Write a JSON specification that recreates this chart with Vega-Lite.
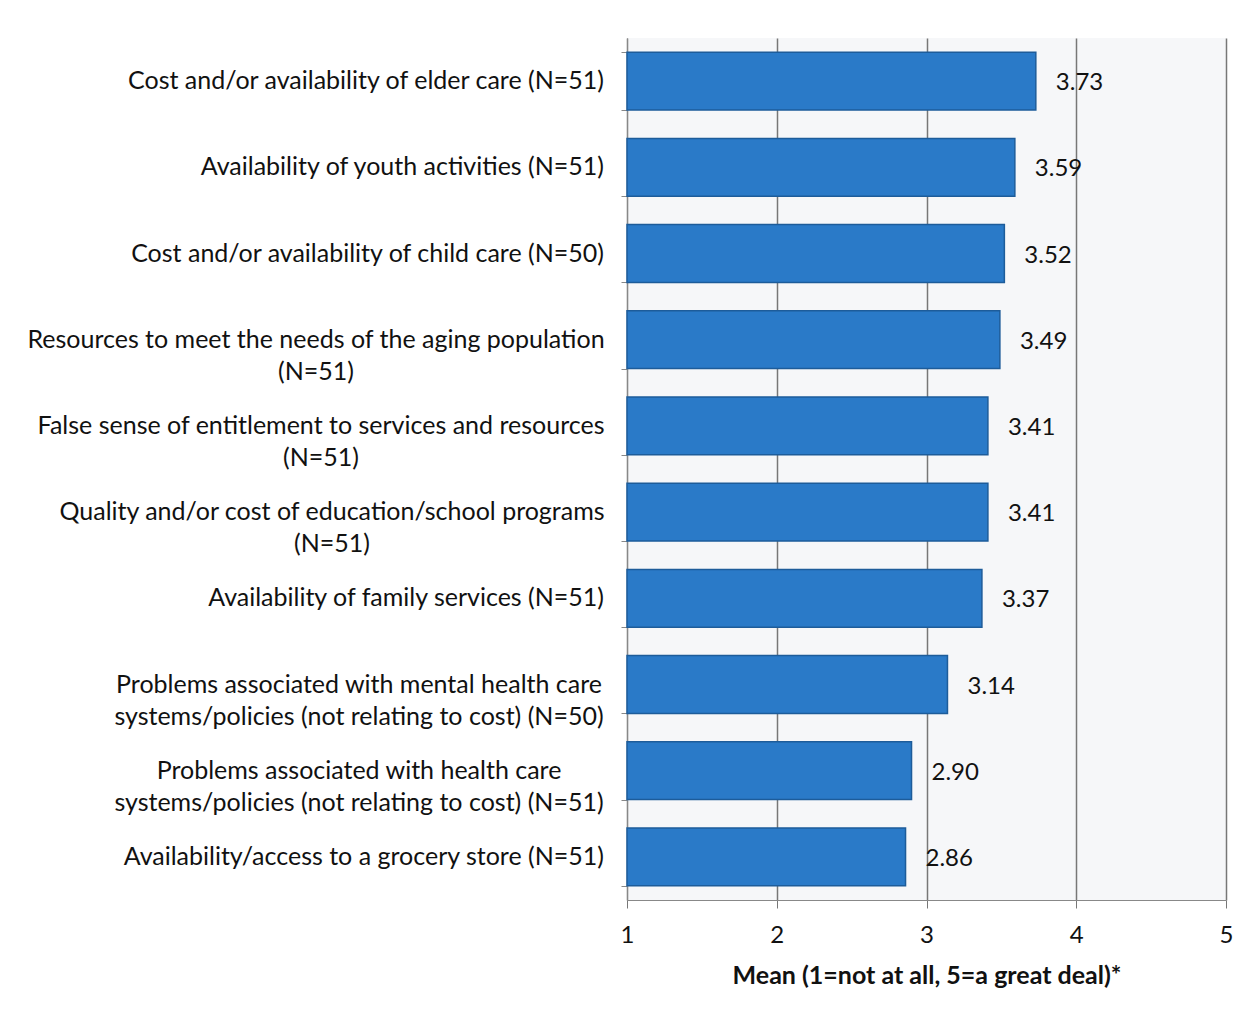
{
  "$schema": "https://vega.github.io/schema/vega-lite/v6.json",
  "autosize": {"type": "none"},
  "padding": {"left": 627, "top": 38, "right": 28, "bottom": 120},
  "width": 599,
  "height": 862,
  "background": "white",
  "config": {
    "view": {"fill": "#f6f7f9", "stroke": null},
    "font": "Lato"
  },
  "data": {
    "values": [
      {"item": "Cost and/or availability of elder care (N=51)", "mean": 3.73},
      {"item": "Availability of youth activities (N=51)", "mean": 3.59},
      {"item": "Cost and/or availability of child care (N=50)", "mean": 3.52},
      {"item": "Resources to meet the needs of the aging population|(N=51)", "mean": 3.49},
      {"item": "False sense of entitlement to services and resources|(N=51)", "mean": 3.41},
      {"item": "Quality and/or cost of education/school programs|(N=51)", "mean": 3.41},
      {"item": "Availability of family services (N=51)", "mean": 3.37},
      {"item": "Problems associated with mental health care|systems/policies (not relating to cost) (N=50)", "mean": 3.14},
      {"item": "Problems associated with health care|systems/policies (not relating to cost) (N=51)", "mean": 2.90},
      {"item": "Availability/access to a grocery store (N=51)", "mean": 2.86}
    ]
  },
  "encoding": {
    "y": {
      "field": "item",
      "type": "nominal",
      "sort": null,
      "scale": {
        "domain": [
          "Cost and/or availability of elder care (N=51)",
          "Availability of youth activities (N=51)",
          "Cost and/or availability of child care (N=50)",
          "Resources to meet the needs of the aging population|(N=51)",
          "False sense of entitlement to services and resources|(N=51)",
          "Quality and/or cost of education/school programs|(N=51)",
          "Availability of family services (N=51)",
          "Problems associated with mental health care|systems/policies (not relating to cost) (N=50)",
          "Problems associated with health care|systems/policies (not relating to cost) (N=51)",
          "Availability/access to a grocery store (N=51)"
        ],
        "paddingInner": 0.33,
        "paddingOuter": 0.165
      },
      "axis": {
        "title": null,
        "labels": false,
        "tickBand": "extent",
        "tickSize": 6,
        "tickColor": "#888888",
        "domainColor": "#888888",
        "grid": false
      }
    }
  },
  "layer": [
    {
      "mark": {"type": "bar", "color": "#2a7ac8", "stroke": "#1d5c9a", "strokeWidth": 1.5},
      "encoding": {
        "x": {
          "field": "mean",
          "type": "quantitative",
          "scale": {"domain": [1, 5], "nice": false, "zero": false},
          "axis": {
            "values": [1, 2, 3, 4, 5],
            "format": "d",
            "labelFlush": false,
            "title": "Mean (1=not at all, 5=a great deal)*",
            "titleFont": "Lato",
            "titleFontSize": 25,
            "titleFontWeight": "bold",
            "titleColor": "#111111",
            "titlePadding": 16,
            "labelFont": "Lato",
            "labelFontSize": 24,
            "labelColor": "#111111",
            "labelPadding": 15,
            "tickSize": 8,
            "tickColor": "#777777",
            "domainColor": "#888888",
            "grid": true,
            "gridColor": "#777777",
            "gridWidth": 1.5
          }
        },
        "x2": {"datum": 1}
      }
    },
    {
      "mark": {"type": "text", "align": "left", "baseline": "middle", "dx": 20, "dy": 2, "fontSize": 24, "font": "Lato", "color": "#111111"},
      "encoding": {
        "x": {"field": "mean", "type": "quantitative"},
        "text": {"field": "mean", "type": "quantitative", "format": ".2f"}
      }
    },
    {
      "transform": [{"filter": "indexof(datum.item, '|') < 0"}],
      "mark": {"type": "text", "align": "right", "baseline": "middle", "dx": -23, "fontSize": 25, "font": "Lato", "color": "#111111"},
      "encoding": {
        "x": {"datum": 1, "type": "quantitative"},
        "text": {"field": "item", "type": "nominal"}
      }
    },
    {
      "transform": [{"filter": "indexof(datum.item, 'Resources') == 0"}],
      "mark": {"type": "text", "align": "center", "baseline": "middle", "dx": -311, "lineBreak": "|", "lineHeight": 32, "fontSize": 25, "font": "Lato", "color": "#111111"},
      "encoding": {
        "x": {"datum": 1, "type": "quantitative"},
        "text": {"field": "item", "type": "nominal"}
      }
    },
    {
      "transform": [{"filter": "indexof(datum.item, 'False') == 0"}],
      "mark": {"type": "text", "align": "center", "baseline": "middle", "dx": -306, "lineBreak": "|", "lineHeight": 32, "fontSize": 25, "font": "Lato", "color": "#111111"},
      "encoding": {
        "x": {"datum": 1, "type": "quantitative"},
        "text": {"field": "item", "type": "nominal"}
      }
    },
    {
      "transform": [{"filter": "indexof(datum.item, 'Quality') == 0"}],
      "mark": {"type": "text", "align": "center", "baseline": "middle", "dx": -295, "lineBreak": "|", "lineHeight": 32, "fontSize": 25, "font": "Lato", "color": "#111111"},
      "encoding": {
        "x": {"datum": 1, "type": "quantitative"},
        "text": {"field": "item", "type": "nominal"}
      }
    },
    {
      "transform": [{"filter": "indexof(datum.item, 'Problems') == 0"}],
      "mark": {"type": "text", "align": "center", "baseline": "middle", "dx": -268, "lineBreak": "|", "lineHeight": 32, "fontSize": 25, "font": "Lato", "color": "#111111"},
      "encoding": {
        "x": {"datum": 1, "type": "quantitative"},
        "text": {"field": "item", "type": "nominal"}
      }
    }
  ]
}
